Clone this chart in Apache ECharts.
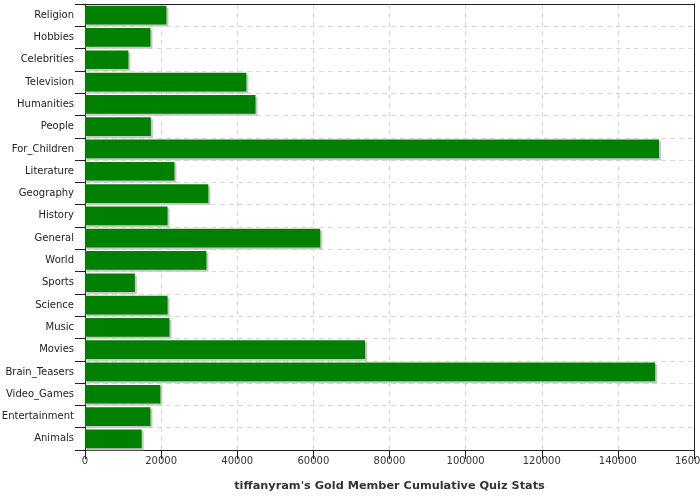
<!DOCTYPE html>
<html>
<head>
<meta charset="utf-8">
<script src="https://cdn.jsdelivr.net/npm/echarts@6/dist/echarts.min.js"></script>
<style>html,body{margin:0;padding:0;background:#fff;}#c{width:700px;height:500px;}</style>
</head>
<body>
<div id="c"></div>
<script>
const categories = ["Religion","Hobbies","Celebrities","Television","Humanities","People","For_Children","Literature","Geography","History","General","World","Sports","Science","Music","Movies","Brain_Teasers","Video_Games","Entertainment","Animals"];
const values = [21400,17200,11400,42400,44800,17300,150800,23500,32400,21700,61800,31900,13100,21700,22200,73600,149800,19800,17200,14900];
const xTicks = {min:0,max:160000,interval:20000};
const titleText = "tiffanyram's Gold Member Cumulative Quiz Stats";

const chart = echarts.init(document.getElementById('c'), null, {renderer:'canvas'});
const font = 'DejaVu Sans';
chart.setOption({
  animation:false,
  grid:{left:85,right:6,top:4,bottom:50,containLabel:false,outerBoundsMode:'none'},
  xAxis:[{
    type:'value',min:xTicks.min,max:xTicks.max,interval:xTicks.interval,
    name:titleText,nameLocation:'middle',nameGap:31,
    nameTextStyle:{fontFamily:font,fontWeight:'bold',fontSize:11.3,color:'#333'},
    axisLine:{show:true,lineStyle:{color:'#222'}},
    axisTick:{show:true,length:9,lineStyle:{color:'#222'}},
    axisLabel:{fontFamily:font,fontSize:10,color:'#333',margin:6,formatter:v=>String(v)},
    splitLine:{show:true,lineStyle:{color:'#d3dae0',type:[5,4]}}
  },{
    type:'value',position:'top',min:xTicks.min,max:xTicks.max,
    axisLine:{show:true,onZero:false,lineStyle:{color:'#222'}},
    axisTick:{show:false},axisLabel:{show:false},splitLine:{show:false}
  }],
  yAxis:[{
    type:'category',data:categories,inverse:true,
    axisLine:{show:true,lineStyle:{color:'#222'}},
    axisTick:{show:true,length:10,lineStyle:{color:'#222'}},
    axisLabel:{fontFamily:font,fontSize:10,color:'#222',margin:11},
    splitLine:{show:true,lineStyle:{color:'#d9d9d9',type:[5,4]}}
  },{
    type:'value',position:'right',min:0,max:1,
    axisLine:{show:true,onZero:false,lineStyle:{color:'#222'}},
    axisTick:{show:false},axisLabel:{show:false},splitLine:{show:false}
  }],
  series:[{
    type:'bar',data:values,barCategoryGap:'16%',xAxisIndex:0,yAxisIndex:0,
    itemStyle:{color:'#008000',shadowColor:'#c8c8c8',shadowOffsetX:2,shadowOffsetY:2,shadowBlur:0}
  }]
});
</script>
</body>
</html>
